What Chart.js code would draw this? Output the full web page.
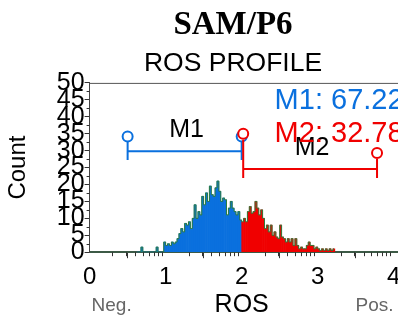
<!DOCTYPE html>
<html>
<head>
<meta charset="utf-8">
<script src="https://cdn.jsdelivr.net/npm/chart.js@4.4.1/dist/chart.umd.min.js"></script>
<style>
  html, body { margin: 0; padding: 0; background: #fff; overflow: hidden; }
  #wrap { width: 466px; height: 320px; }
</style>
</head>
<body>
<div id="wrap"><canvas id="myChart" width="466" height="320"></canvas></div>
<script>
// histogram bins: 0.025 wide, first bin starts at 0.625
const binStart = 0.625;
const binWidth = 0.025;
const counts = [
  0, 0, 1.5, 0, 0, 0, 0, 0, 0, 0, 1.5, 0, 0, 0,
  3, 2, 2.5, 2, 3, 2.5, 3, 4, 5.5, 7,
  6, 8.5, 8, 9, 7, 10, 14, 10, 12, 11,
  16.5, 14, 17.5, 15, 19.5, 17, 16.5, 19, 21, 18,
  15, 16, 15.5, 11, 13, 15, 13, 12, 11, 12,
  9.5, 9, 10, 9, 12, 13.5, 11.5, 12, 15, 13,
  11, 12.5, 10, 7, 8, 6, 8, 5, 6, 4.5,
  4, 8, 4.5, 4, 3, 4, 3, 4, 2, 4,
  2, 1, 1.5, 1, 1, 2, 3, 2, 2, 1,
  1.5, 1, 0.5, 1, 0.5, 1, 0.5, 1, 0.5, 1
];
const xTicks = [0, 1, 2, 3, 4];
const yTicks = [0, 5, 10, 15, 20, 25, 30, 35, 40, 45, 50];

// marker gates
const gateNames = ['M1', 'M2'];
const gatePercent = ['67.22', '32.78'];
const gateFrom = [0.5, 2.02];
const gateTo = [2.0, 3.78];
const gateLevel = [29.8, 24.6];
const handleTopFrom = [32.8, 33.2];
const handleTopTo = [32.8, 27.5];
const handleBottom = [27.2, 21.9];
const circleFrom = [34.2, 35.0];
const circleTo = [34.2, 29.3];

const colors = {
  blue: 'rgb(10, 112, 222)',
  red: 'rgb(240, 0, 0)',
  green: 'rgb(46, 125, 60)',
  axis: '#333'
};
const gateColors = [colors.blue, colors.red];

const points = counts.map((c, i) => ({ x: binStart + binWidth * (i + 0.5), y: c }));
const barColors = points.map(p => p.x < 2 ? colors.blue : colors.red);

const extras = {
  id: 'extras',
  afterDraw(chart) {
    const ctx = chart.ctx;
    const xs = chart.scales.x, ys = chart.scales.y;
    const area = chart.chartArea;
    ctx.save();

    // top frame line
    ctx.strokeStyle = '#555';
    ctx.lineWidth = 1;
    ctx.beginPath();
    ctx.moveTo(area.left, area.top + 0.5);
    ctx.lineTo(area.right, area.top + 0.5);
    ctx.stroke();

    // minor ticks (log style on x, half steps on y)
    ctx.strokeStyle = colors.axis;
    ctx.beginPath();
    for (let d = 0; d < 4; d++) {
      for (let k = 2; k <= 9; k++) {
        const px = Math.round(xs.getPixelForValue(d + Math.log10(k))) + 0.5;
        ctx.moveTo(px, area.bottom);
        ctx.lineTo(px, area.bottom + 4);
      }
    }
    for (let v = 2.5; v < 50; v += 5) {
      const py = Math.round(ys.getPixelForValue(v)) + 0.5;
      ctx.moveTo(area.left, py);
      ctx.lineTo(area.left - 3, py);
    }
    ctx.stroke();

    // gates
    ctx.lineWidth = 2;
    gateNames.forEach((name, i) => {
      const x1 = xs.getPixelForValue(gateFrom[i]);
      const x2 = xs.getPixelForValue(gateTo[i]);
      const yl = ys.getPixelForValue(gateLevel[i]);
      ctx.strokeStyle = gateColors[i];
      ctx.beginPath();
      ctx.moveTo(x1, yl);
      ctx.lineTo(x2, yl);
      ctx.moveTo(x1, ys.getPixelForValue(handleTopFrom[i]));
      ctx.lineTo(x1, ys.getPixelForValue(handleBottom[i]));
      ctx.moveTo(x2, ys.getPixelForValue(handleTopTo[i]));
      ctx.lineTo(x2, ys.getPixelForValue(handleBottom[i]));
      ctx.stroke();
      [[x1, circleFrom[i]], [x2, circleTo[i]]].forEach(([cx, cv]) => {
        ctx.beginPath();
        ctx.arc(cx, ys.getPixelForValue(cv), 5, 0, Math.PI * 2);
        ctx.fillStyle = '#fff';
        ctx.fill();
        ctx.stroke();
      });
    });

    // gate labels
    ctx.fillStyle = '#000';
    ctx.font = '25px "Liberation Sans"';
    ctx.textAlign = 'center';
    ctx.textBaseline = 'middle';
    gateNames.forEach((name, i) => {
      const mx = (xs.getPixelForValue(gateFrom[i]) + xs.getPixelForValue(gateTo[i])) / 2;
      ctx.fillText(name, mx + 2, ys.getPixelForValue(gateLevel[i]) - 21);
    });

    // stats
    ctx.font = '29px "Liberation Sans"';
    ctx.textAlign = 'left';
    gateNames.forEach((name, i) => {
      ctx.fillStyle = gateColors[i];
      ctx.fillText(name + ': ' + gatePercent[i], area.left + 185, area.top + 18 + i * 33);
    });

    // axis title and ends
    const axisMid = (xs.getPixelForValue(xTicks[0]) + xs.getPixelForValue(xTicks[xTicks.length - 1])) / 2;
    ctx.fillStyle = '#000';
    ctx.font = '25px "Liberation Sans"';
    ctx.textAlign = 'center';
    ctx.fillText('ROS', axisMid, 305);
    ctx.fillStyle = '#666';
    ctx.font = '19px "Liberation Sans"';
    ctx.fillText('Neg.', area.left + 22, 306);
    ctx.fillText('Pos.', area.left + 285, 306);
    ctx.restore();
  }
};

const ctx = document.getElementById('myChart').getContext('2d');
const myChart = new Chart(ctx, {
  type: 'bar',
  data: {
    datasets: [
      {
        type: 'line',
        data: points,
        borderColor: colors.green,
        borderWidth: 1,
        stepped: 'middle',
        pointRadius: 0,
        fill: false,
        order: 0
      },
      {
        type: 'bar',
        data: points,
        backgroundColor: barColors,
        borderWidth: 0,
        barPercentage: 1,
        categoryPercentage: 1,
        order: 1
      }
    ]
  },
  options: {
    responsive: false,
    animation: false,
    devicePixelRatio: 1,
    layout: { padding: { top: 0, right: 0, bottom: 23, left: 0 } },
    plugins: {
      legend: { display: false },
      tooltip: { enabled: false },
      title: {
        display: true,
        text: 'SAM/P6',
        color: '#000',
        font: { family: 'Liberation Serif', size: 33, weight: 'bold' },
        padding: { top: 6, bottom: 2.5 }
      },
      subtitle: {
        display: true,
        text: 'ROS PROFILE',
        color: '#000',
        font: { family: 'Liberation Sans', size: 26.5 },
        padding: { top: 0, bottom: 3 }
      }
    },
    scales: {
      x: {
        type: 'linear',
        min: 0,
        max: 4.95,
        offset: false,
        afterBuildTicks: (s) => { s.ticks = xTicks.map(v => ({ value: v })); },
        grid: { drawOnChartArea: false, drawTicks: true, tickLength: 6, color: colors.axis },
        border: { color: 'rgb(60, 90, 70)', width: 2 },
        ticks: {
          autoSkip: false,
          maxRotation: 0,
          padding: 5,
          color: '#000',
          font: { family: 'Liberation Sans', size: 24 }
        }
      },
      y: {
        min: 0,
        max: 50,
        afterBuildTicks: (s) => { s.ticks = yTicks.map(v => ({ value: v })); },
        grid: { drawOnChartArea: false, drawTicks: true, tickLength: 5, color: colors.axis },
        border: { color: '#444', width: 1 },
        ticks: {
          autoSkip: false,
          padding: 0,
          color: '#000',
          font: { family: 'Liberation Sans', size: 25 }
        },
        title: {
          display: true,
          text: 'Count',
          color: '#000',
          font: { family: 'Liberation Sans', size: 24 },
          padding: { top: 4, bottom: 24 }
        }
      }
    }
  },
  plugins: [extras]
});
</script>
</body>
</html>
